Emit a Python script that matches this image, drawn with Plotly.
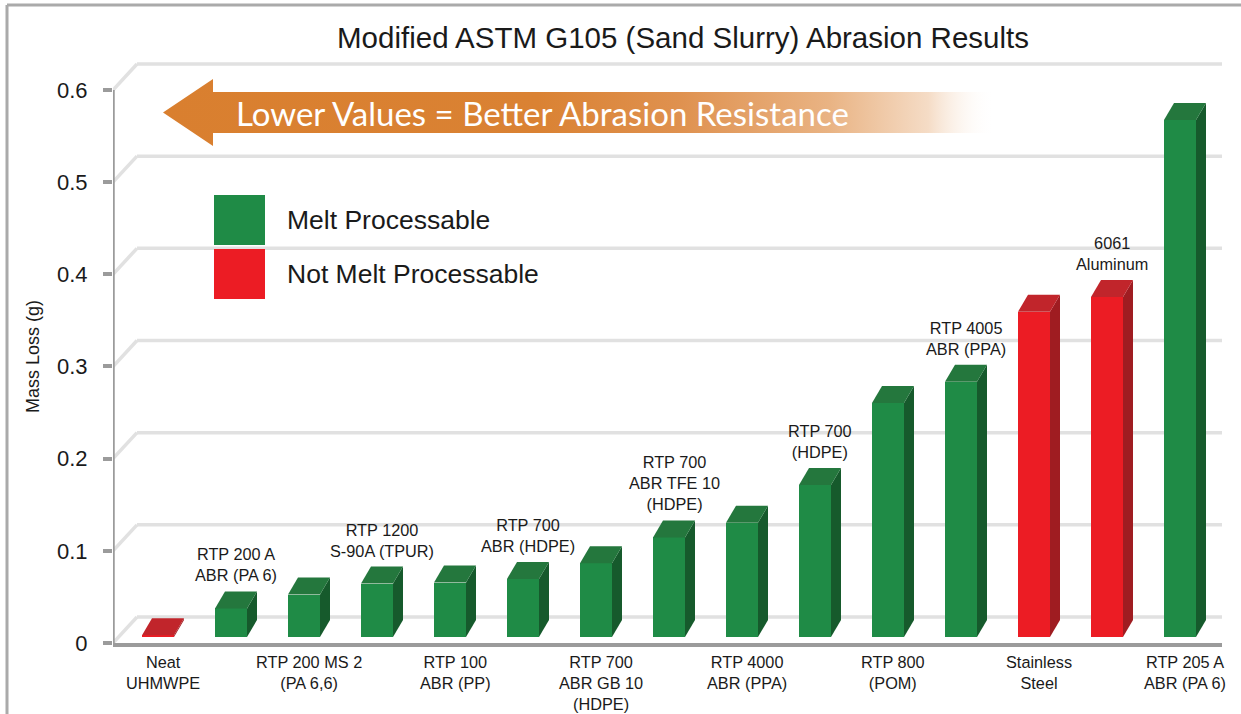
import plotly.graph_objects as go

# ---------------- data ----------------
categories = [
    "Neat<br>UHMWPE",
    "RTP 200 A<br>ABR (PA 6)",
    "RTP 200 MS 2<br>(PA 6,6)",
    "RTP 1200<br>S-90A (TPUR)",
    "RTP 100<br>ABR (PP)",
    "RTP 700<br>ABR (HDPE)",
    "RTP 700<br>ABR GB 10<br>(HDPE)",
    "RTP 700<br>ABR TFE 10<br>(HDPE)",
    "RTP 4000<br>ABR (PPA)",
    "RTP 700<br>(HDPE)",
    "RTP 800<br>(POM)",
    "RTP 4005<br>ABR (PPA)",
    "Stainless<br>Steel",
    "6061<br>Aluminum",
    "RTP 205 A<br>ABR (PA 6)",
]
mass_loss = [0.002, 0.031, 0.046, 0.058, 0.059, 0.063, 0.080, 0.108,
             0.124, 0.165, 0.254, 0.277, 0.353, 0.369, 0.561]
melt_processable = [False, True, True, True, True, True, True, True,
                    True, True, True, True, False, False, True]
label_above = [False, True, False, True, False, True, False, True,
               False, True, False, True, False, True, False]
tick_vals = [0, 0.1, 0.2, 0.3, 0.4, 0.5, 0.6]
tick_text = ["0", "0.1", "0.2", "0.3", "0.4", "0.5", "0.6"]
legend_names = ["Melt Processable", "Not Melt Processable"]

title = "Modified ASTM G105 (Sand Slurry) Abrasion Results"
y_title = "Mass Loss (g)"
arrow_text = "Lower Values = Better Abrasion Resistance"

# ---------------- geometry / style ----------------
W, H = 1241, 714
PL, PR, PT, PB = 113, 1222, 40, 643       # plot area edges (px)
PX_PER_CAT = 73.0
PX_PER_UNIT = 921.7
X0 = -(158 - PL) / PX_PER_CAT
X1 = X0 + (PR - PL) / PX_PER_CAT
Y1 = (PB - PT) / PX_PER_UNIT

def xd(px):
    return X0 + (px - PL) / PX_PER_CAT

def yd(py):
    return (PB - py) / PX_PER_UNIT

def xp(px):
    return (px - PL) / (PR - PL)

def yp(py):
    return (PB - py) / (PB - PT)

BAR_W = 32 / PX_PER_CAT
BASE = 6 / PX_PER_UNIT
DX = 10 / PX_PER_CAT
DY = 17 / PX_PER_UNIT
GDX = 24 / PX_PER_CAT
GDY = 26 / PX_PER_UNIT

GREEN = dict(front="#1f8b46", top="#24773d", side="#165a2c")
RED = dict(front="#ec1c24", top="#c1252b", side="#9f1c21")
AXIS_C = "#9b9b9b"
GRID_C = "#e1e1e1"
FONT = "Liberation Sans, Arial, Helvetica, sans-serif"
TXT = "#1a1a1a"

fig = go.Figure()

# front faces as bars
idx = list(range(len(categories)))
front_cols = [GREEN["front"] if m else RED["front"] for m in melt_processable]
fig.add_trace(go.Bar(
    x=idx, y=mass_loss, base=BASE, width=BAR_W,
    marker=dict(color=front_cols, line=dict(width=0)),
    hoverinfo="skip", showlegend=False,
))

# side and top faces derived from values
for i, v in enumerate(mass_loss):
    pal = GREEN if melt_processable[i] else RED
    l = i - BAR_W / 2
    r = i + BAR_W / 2
    top = BASE + v
    fig.add_trace(go.Scatter(
        x=[r, r + DX, r + DX, r, r],
        y=[BASE, BASE + DY, top + DY, top, BASE],
        fill="toself", fillcolor=pal["side"], mode="lines",
        line=dict(width=0, color=pal["side"]), hoverinfo="skip", showlegend=False,
    ))
    fig.add_trace(go.Scatter(
        x=[l, l + DX, r + DX, r, l],
        y=[top, top + DY, top + DY, top, top],
        fill="toself", fillcolor=pal["top"], mode="lines",
        line=dict(width=0, color=pal["top"]), hoverinfo="skip", showlegend=False,
    ))

# 3D back-wall gridlines (below traces)
shapes = []
for t in tick_vals:
    shapes.append(dict(type="line", xref="x", yref="y", layer="below",
                       x0=X0, y0=t, x1=X0 + GDX, y1=t + GDY,
                       line=dict(color=GRID_C, width=3.5)))
    shapes.append(dict(type="line", xref="x", yref="y", layer="below",
                       x0=X0 + GDX, y0=t + GDY, x1=X1, y1=t + GDY,
                       line=dict(color=GRID_C, width=3.5)))

# vertical axis line (0 .. 0.6)
fig.add_trace(go.Scatter(
    x=[X0, X0], y=[-9 / PX_PER_UNIT, tick_vals[-1]], mode="lines",
    line=dict(color=AXIS_C, width=3.5), cliponaxis=False,
    hoverinfo="skip", showlegend=False,
))

# orange arrow with fading gradient
ax_px = [163, 213, 213, 995, 995, 213, 213, 163]
ay_px = [112.5, 79, 92, 92, 133, 133, 146, 112.5]
fig.add_trace(go.Scatter(
    x=[xd(p) for p in ax_px], y=[yd(p) for p in ay_px],
    fill="toself", mode="lines", line=dict(width=0),
    fillgradient=dict(type="horizontal", colorscale=[
        [0.0, "#d97f2f"], [0.45, "#da8233"], [0.62, "#df914f"],
        [0.80, "#e9b383"], [0.92, "#f5dcc6"], [1.0, "rgba(255,255,255,0)"]]),
    hoverinfo="skip", showlegend=False,
))

annotations = []
annotations.append(dict(
    x=xd(542), y=yd(113), xref="x", yref="y", text=arrow_text, showarrow=False,
    font=dict(family="Lato, Open Sans, sans-serif", size=33, color="white"),
    xanchor="center", yanchor="middle"))

# category labels
for i, (lab, v) in enumerate(zip(categories, mass_loss)):
    if label_above[i]:
        annotations.append(dict(
            x=i + DX / 2, y=BASE + v + DY, xref="x", yref="y", text=lab,
            showarrow=False, xanchor="center", yanchor="bottom", yshift=5,
            font=dict(family=FONT, size=16.3, color=TXT)))
    else:
        annotations.append(dict(
            x=i + DX / 2, y=0, xref="x", yref="y", text=lab,
            showarrow=False, xanchor="center", yanchor="top", yshift=-8,
            font=dict(family=FONT, size=16.3, color=TXT)))

# legend
leg_cols = [GREEN["front"], RED["front"]]
leg_top = [195, 249]
for name, col, ty in zip(legend_names, leg_cols, leg_top):
    shapes.append(dict(type="rect", xref="paper", yref="paper", layer="above",
                       x0=xp(214), x1=xp(265), y0=yp(ty + 50), y1=yp(ty),
                       fillcolor=col, line=dict(width=0)))
    annotations.append(dict(
        x=xp(285), y=yp(ty + 25), xref="paper", yref="paper", text=name,
        showarrow=False, xanchor="left", yanchor="middle",
        font=dict(family=FONT, size=26.5, color=TXT)))

# y axis title
annotations.append(dict(
    x=xp(33), y=yp(357), xref="paper", yref="paper", text=y_title,
    textangle=-90, showarrow=False, xanchor="center", yanchor="middle",
    font=dict(family=FONT, size=18, color=TXT)))

# outer frame
shapes.append(dict(type="line", xref="paper", yref="paper", x0=xp(7), x1=xp(1245),
                   y0=yp(5), y1=yp(5), line=dict(color="#aaaaaa", width=3)))
shapes.append(dict(type="line", xref="paper", yref="paper", x0=xp(7), x1=xp(7),
                   y0=yp(5), y1=yp(720), line=dict(color="#aaaaaa", width=3)))

fig.update_layout(
    width=W, height=H,
    margin=dict(l=PL, r=W - PR, t=PT, b=H - PB, pad=0),
    paper_bgcolor="white", plot_bgcolor="white",
    title=dict(text=title, x=683 / W, xanchor="center", xref="container",
               y=1 - 38 / H, yanchor="middle", yref="container",
               font=dict(family=FONT, size=29.5, color=TXT)),
    xaxis=dict(range=[X0, X1], showgrid=False, zeroline=False, showticklabels=False,
               ticks="", showline=True, linecolor=AXIS_C, linewidth=3.5, fixedrange=True),
    yaxis=dict(range=[0, Y1], showgrid=False, zeroline=False, showline=False,
               tickmode="array", tickvals=tick_vals, ticktext=tick_text,
               ticks="outside", ticklen=9, tickwidth=3.5, tickcolor=AXIS_C,
               ticklabelstandoff=11,
               tickfont=dict(family=FONT, size=22, color=TXT), fixedrange=True),
    shapes=shapes, annotations=annotations, showlegend=False,
    bargap=0,
)

fig.write_html(
    "out.html",
    config={"displayModeBar": False},
    post_script="document.body.style.margin='0';document.body.style.padding='0';",
)
